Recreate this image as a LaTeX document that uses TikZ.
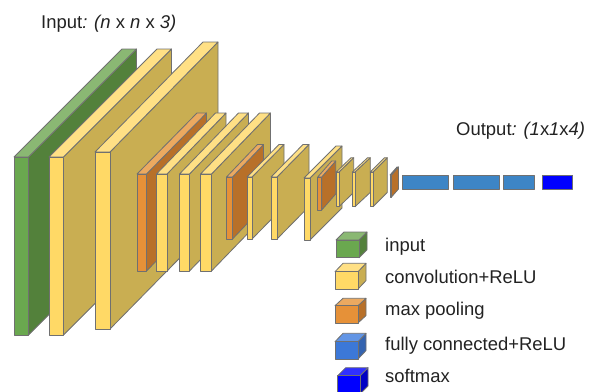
\documentclass[tikz,border=0pt]{standalone}
\usepackage{fontspec}
\setmainfont{Liberation Sans}
\definecolor{inputfront}{HTML}{6AA84F}
\definecolor{inputside}{HTML}{53813B}
\definecolor{inputtop}{HTML}{8AB873}
\definecolor{convfront}{HTML}{FFD966}
\definecolor{convside}{HTML}{C9AE52}
\definecolor{convtop}{HTML}{FFE085}
\definecolor{poolfront}{HTML}{E69138}
\definecolor{poolside}{HTML}{B87029}
\definecolor{pooltop}{HTML}{EBA960}
\definecolor{fcfront}{HTML}{3C78D8}
\definecolor{fcside}{HTML}{3463B0}
\definecolor{fctop}{HTML}{6295E5}
\definecolor{densefill}{HTML}{3D85C6}
\definecolor{softfront}{HTML}{0000FF}
\definecolor{softside}{HTML}{0000C4}
\definecolor{softtop}{HTML}{3030FF}
\definecolor{edgegray}{HTML}{707070}
\definecolor{textgray}{HTML}{222222}
\tikzset{
  edge/.style={draw=edgegray,line width=0.7pt,line join=round},
  caption/.style={anchor=base west,inner sep=0pt,text=textgray,font=\fontsize{15.75}{18}\selectfont},
}
% x left, x right, y top, y bottom, shift right, shift up, colour prefix
\newcommand{\slab}[7]{
  \draw[edge,fill=#7side] (#2,#3) -- (#2+#5,#3-#6) -- (#2+#5,#4-#6) -- (#2,#4) -- cycle;
  \draw[edge,fill=#7top] (#1,#3) -- (#1+#5,#3-#6) -- (#2+#5,#3-#6) -- (#2,#3) -- cycle;
  \draw[edge,fill=#7front] (#1,#3) rectangle (#2,#4);
}
\begin{document}
\begin{tikzpicture}[x=0.03cm,y=-0.03cm]
  \useasboundingbox (0,0) rectangle (591,391);
  \clip (0,0) rectangle (591,391);

  \slab{14}{28.5}{157}{335}{108}{108}{input}
  \slab{49}{63.5}{157}{335}{108}{108}{conv}
  \slab{95}{110}{152}{329}{108}{110}{conv}

  \slab{137}{146.5}{174}{271}{60}{61}{pool}
  \slab{156.5}{167}{174}{271}{59}{61}{conv}
  \slab{179.5}{189.5}{174}{271}{59}{61}{conv}
  \slab{200.5}{211.5}{174}{271}{59}{61}{conv}

  \slab{226.5}{232.5}{177}{239}{31}{32.5}{pool}
  \slab{247}{252}{177}{239}{32}{32.5}{conv}
  \slab{271}{277}{177}{239}{32}{32.5}{conv}
  \slab{304}{310}{178}{240}{32}{32}{conv}

  \slab{317.7}{321.7}{177}{210}{14}{16}{pool}
  \slab{336.3}{339}{172}{206.7}{14.7}{14.3}{conv}
  \slab{352.3}{355}{172}{206.7}{15.3}{14.3}{conv}
  \slab{370.3}{373}{172}{206.7}{14.3}{14.3}{conv}
  \slab{390}{391.5}{175}{197}{7}{8}{pool}

  \draw[edge,fill=densefill] (402.7,175) rectangle (448.3,189.3);
  \draw[edge,fill=densefill] (453.5,175) rectangle (499,189.3);
  \draw[edge,fill=densefill] (503.5,175) rectangle (534,189.3);
  \draw[edge,fill=softfront] (542,175) rectangle (572.5,189.3);

  \slab{336}{359}{240}{257.7}{8}{8}{input}
  \slab{335}{358}{271.7}{289}{8}{8.4}{conv}
  \slab{335}{358}{305.7}{323}{8}{7.4}{pool}
  \slab{335}{358}{341.7}{359}{8}{8.4}{fc}
  \slab{337.7}{360}{375.7}{394}{8}{8}{soft}

  \node[caption] (inputlabel) at (41,28) {Input\textit{:} \textit{(n} x \textit{n} x \textit{3)}};
  \node[caption] (outputlabel) at (456,135) {Output\textit{:} \textit{(1}x\textit{1}x\textit{4)}};

  \node[caption] (keyinput) at (385,251) {input};
  \node[caption] (keyconv) at (385,283) {convolution+ReLU};
  \node[caption] (keypool) at (385,315) {max pooling};
  \node[caption] (keyfc) at (385,350) {fully connected+ReLU};
  \node[caption] (keysoft) at (385,382) {softmax};
\end{tikzpicture}
\end{document}
